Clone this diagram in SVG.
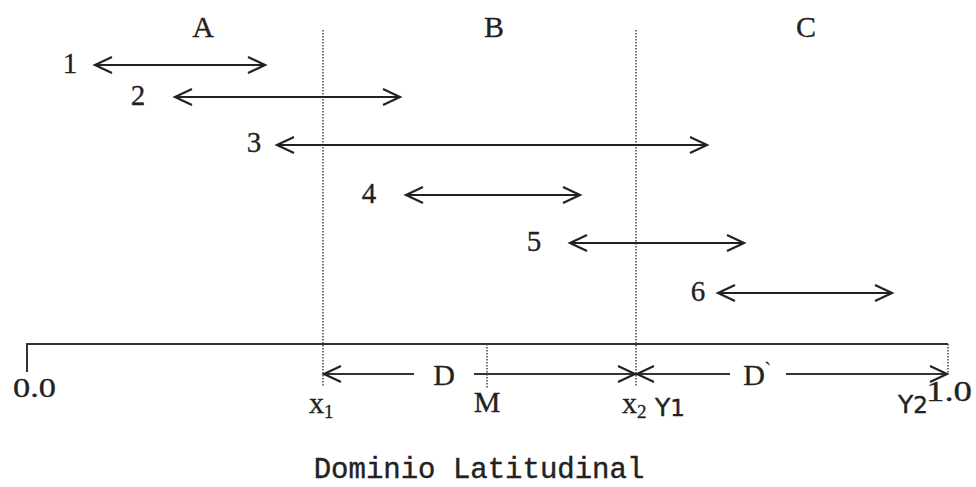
<svg xmlns="http://www.w3.org/2000/svg" width="976" height="487" viewBox="0 0 976 487">
<style>
.serif{font-family:"Liberation Serif","Times New Roman",serif;fill:#222;stroke:#222;stroke-width:0.3}
.sans{font-family:"DejaVu Sans","Liberation Sans",sans-serif;fill:#222;stroke:#222;stroke-width:0.4}
.mono{font-family:"Liberation Mono","Courier New",monospace;fill:#222;stroke:#222;stroke-width:0.4}
.arr{stroke:#222;stroke-width:2;fill:none;marker-start:url(#hs);marker-end:url(#he)}
.dot{stroke:#444;stroke-width:1.5;stroke-dasharray:1.5 1.5;fill:none}
.ax{stroke:#333;stroke-width:2;fill:none}
</style>
<defs>
<marker id="he" markerUnits="userSpaceOnUse" markerWidth="24" markerHeight="24" viewBox="-20 -10 24 20" refX="0" refY="0" orient="auto">
<path d="M-17,-8 L0,0 L-17,8" fill="none" stroke="#222" stroke-width="2.2"/>
</marker>
<marker id="hs" markerUnits="userSpaceOnUse" markerWidth="24" markerHeight="24" viewBox="-4 -10 24 20" refX="0" refY="0" orient="auto">
<path d="M17,-8 L0,0 L17,8" fill="none" stroke="#222" stroke-width="2.2"/>
</marker>
</defs>
<g id="regions">
<text class="serif" x="203" y="37" font-size="30" text-anchor="middle">A</text>
<text class="serif" x="494" y="37" font-size="30" text-anchor="middle">B</text>
<text class="serif" x="806" y="37" font-size="30" text-anchor="middle">C</text>
</g>
<g id="boundaries">
<line class="dot" x1="323" y1="30" x2="323" y2="386"/>
<line class="dot" x1="636" y1="30" x2="636" y2="386"/>
</g>
<g id="axis">
<path class="ax" d="M27,372 L27,344 L948,344"/>
<line class="dot" x1="948" y1="344" x2="948" y2="374"/>
<line class="dot" x1="487" y1="344" x2="487" y2="388"/>
<text class="serif" x="13" y="397" font-size="28" textLength="43" lengthAdjust="spacingAndGlyphs">0.0</text>
<text class="serif" x="926" y="401" font-size="30" textLength="46" lengthAdjust="spacingAndGlyphs">1.0</text>
<text class="serif" x="309" y="413" font-size="30">x<tspan font-size="19" dy="5">1</tspan></text>
<text class="serif" x="487" y="412" font-size="30" text-anchor="middle">M</text>
<text class="serif" x="622" y="413" font-size="30">x<tspan font-size="19" dy="5">2</tspan></text>
<text class="sans" x="655" y="416" font-size="25">Y<tspan font-size="23">1</tspan></text>
<text class="sans" x="898" y="413" font-size="25">Y<tspan font-size="23">2</tspan></text>
</g>
<g id="connectors">
<line class="arr" x1="95" y1="65" x2="265" y2="65"/>
<line class="arr" x1="175" y1="97" x2="400" y2="97"/>
<line class="arr" x1="277" y1="145" x2="707" y2="145"/>
<line class="arr" x1="406" y1="195" x2="580" y2="195"/>
<line class="arr" x1="570" y1="243" x2="744" y2="243"/>
<line class="arr" x1="718" y1="293" x2="892" y2="293"/>
<path class="ax" d="M324,374 L414,374 M474,374 L635,374" marker-start="url(#hs)" marker-end="url(#he)"/>
<path class="ax" d="M637,374 L730,374 M786,374 L947,374" marker-start="url(#hs)" marker-end="url(#he)"/>
</g>
<g id="labels">
<text class="serif" x="70" y="73" font-size="29" text-anchor="middle">1</text>
<text class="serif" x="138" y="105" font-size="29" text-anchor="middle">2</text>
<text class="serif" x="254" y="152" font-size="29" text-anchor="middle">3</text>
<text class="serif" x="369" y="203" font-size="29" text-anchor="middle">4</text>
<text class="serif" x="534" y="251" font-size="29" text-anchor="middle">5</text>
<text class="serif" x="698" y="301" font-size="29" text-anchor="middle">6</text>
<text class="serif" x="444" y="385" font-size="30" text-anchor="middle">D</text>
<text class="serif" x="757" y="385" font-size="30" text-anchor="middle">D<tspan dy="-10" font-size="18">`</tspan></text>
</g>
<g id="title">
<text class="mono" x="479" y="478" font-size="29" text-anchor="middle">Dominio Latitudinal</text>
</g>
</svg>
